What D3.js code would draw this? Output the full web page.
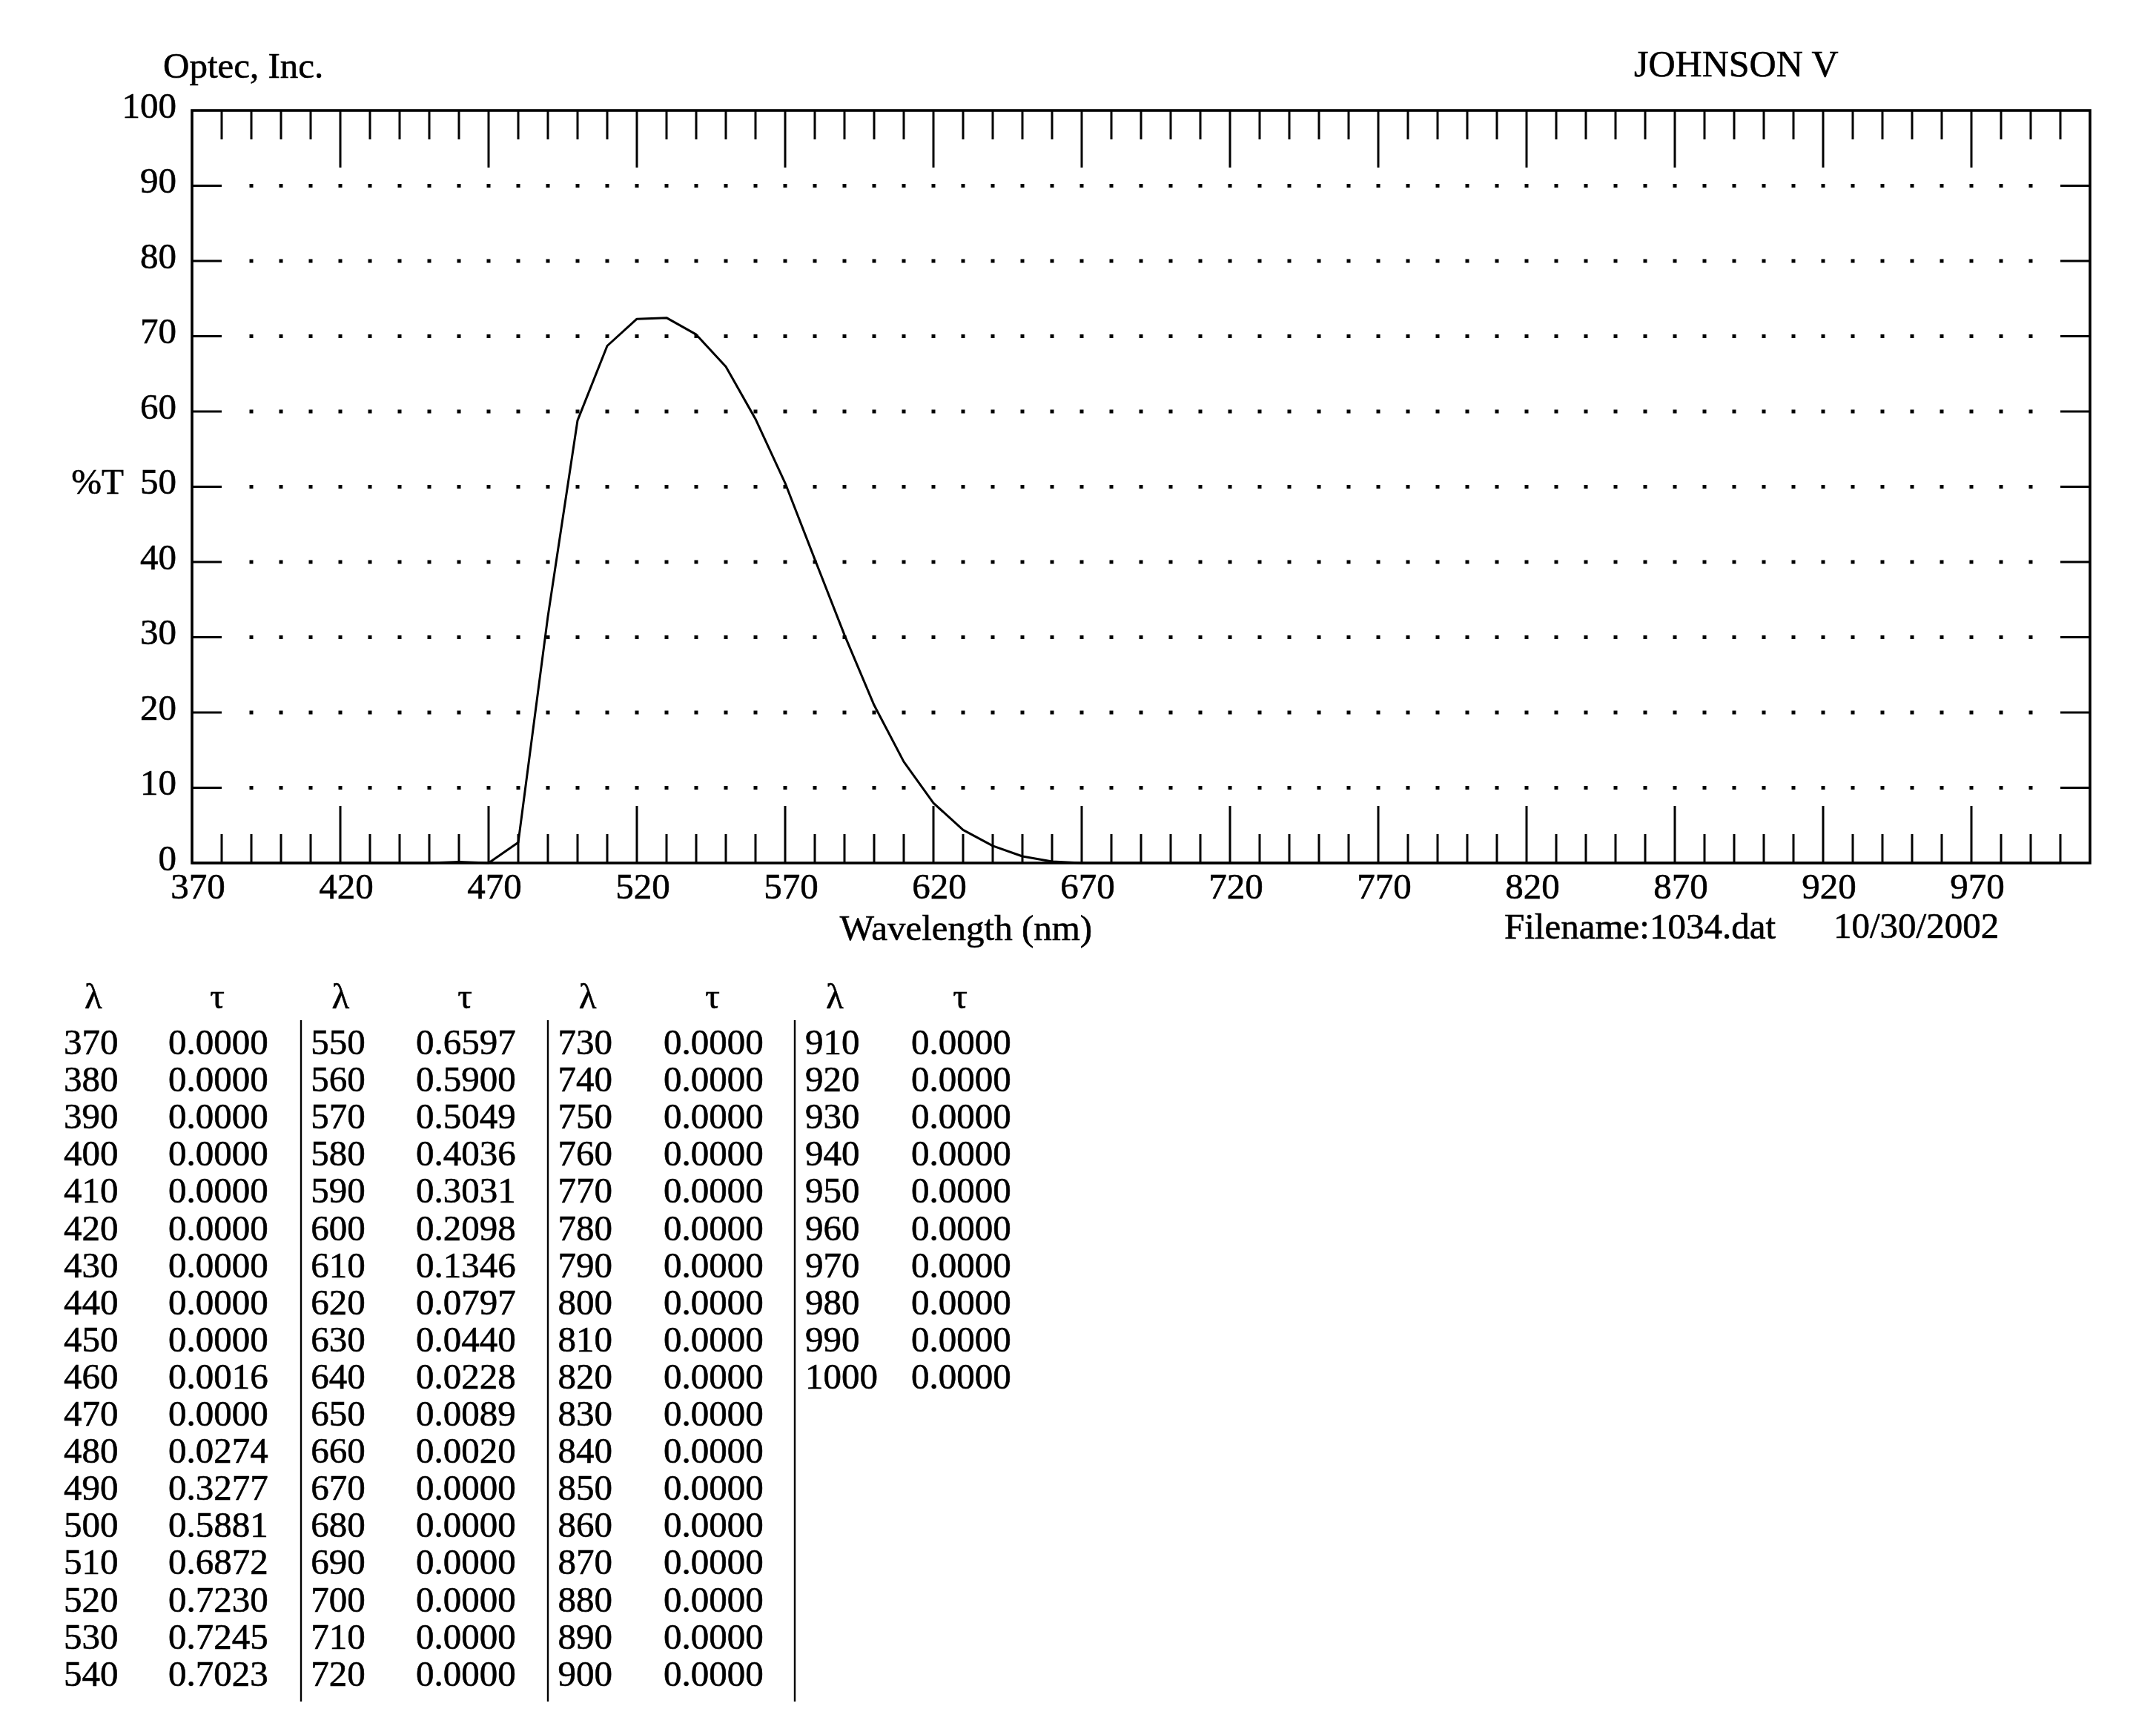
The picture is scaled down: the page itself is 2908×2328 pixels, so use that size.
<!DOCTYPE html>
<html>
<head>
<meta charset="utf-8">
<script src="https://cdn.jsdelivr.net/npm/d3@7"></script>
<style>
  html, body { margin: 0; padding: 0; background: #fff; }
  svg { display: block; }
  text { font-family: "Liberation Serif", "Times New Roman", serif; fill: #000; stroke: #000; stroke-width: 0.6px; }
</style>
</head>
<body>
<svg id="chart" width="2908" height="2328"></svg>
<script>
// ---- data ----
const wavelengths = [370,380,390,400,410,420,430,440,450,460,470,480,490,500,510,520,530,540,
  550,560,570,580,590,600,610,620,630,640,650,660,670,680,690,700,710,720,
  730,740,750,760,770,780,790,800,810,820,830,840,850,860,870,880,890,900,
  910,920,930,940,950,960,970,980,990,1000];
const transmittance = [0,0,0,0,0,0,0,0,0,0.0016,0,0.0274,0.3277,0.5881,0.6872,0.7230,0.7245,0.7023,
  0.6597,0.5900,0.5049,0.4036,0.3031,0.2098,0.1346,0.0797,0.0440,0.0228,0.0089,0.0020,0,0,0,0,0,0,
  0,0,0,0,0,0,0,0,0,0,0,0,0,0,0,0,0,0,
  0,0,0,0,0,0,0,0,0,0];
const xTickLabels = [370,420,470,520,570,620,670,720,770,820,870,920,970];
const yTickLabels = [0,10,20,30,40,50,60,70,80,90,100];
const titleLeft = "Optec, Inc.";
const titleRight = "JOHNSON V";
const xTitle = "Wavelength (nm)";
const yTitle = "%T";
const fileLabel = "Filename:1034.dat";
const dateLabel = "10/30/2002";
const headerLambda = "λ";
const headerTau = "τ";

// ---- layout ----
const svg = d3.select("#chart");
const FS = 49;
const x = d3.scaleLinear().domain([370, 1010]).range([259, 2819]);
const y = d3.scaleLinear().domain([0, 100]).range([1164, 149]);
const xMin = 370, xMax = 1010;

const minorTicks = d3.range(380, 1001, 10);
const isMajor = v => (v - 370) % 50 === 0;

const g = svg.append("g");

// dotted grid
const gridVals = yTickLabels.filter(v => v > 0 && v < 100);
const dotNm = d3.range(390, 991, 10);
gridVals.forEach(v => {
  g.selectAll(null).data(dotNm).join("rect")
    .attr("x", d => x(d) - 2.5).attr("y", y(v) - 2.5)
    .attr("width", 5).attr("height", 5).attr("fill", "#000");
  g.append("line").attr("x1", x(370)).attr("x2", x(380)).attr("y1", y(v)).attr("y2", y(v))
    .attr("stroke", "#000").attr("stroke-width", 3.2);
  g.append("line").attr("x1", x(1000)).attr("x2", x(1010)).attr("y1", y(v)).attr("y2", y(v))
    .attr("stroke", "#000").attr("stroke-width", 3.2);
});

// top & bottom ticks
g.selectAll(".tt").data(minorTicks).join("line")
  .attr("x1", d => x(d)).attr("x2", d => x(d))
  .attr("y1", y(100)).attr("y2", d => y(100) + (isMajor(d) ? 77 : 39))
  .attr("stroke", "#000").attr("stroke-width", 3);
g.selectAll(".bt").data(minorTicks).join("line")
  .attr("x1", d => x(d)).attr("x2", d => x(d))
  .attr("y1", y(0)).attr("y2", d => y(0) - (isMajor(d) ? 77 : 39))
  .attr("stroke", "#000").attr("stroke-width", 3);

// frame
g.append("rect").attr("x", x(xMin)).attr("y", y(100))
  .attr("width", x(xMax) - x(xMin)).attr("height", y(0) - y(100))
  .attr("fill", "none").attr("stroke", "#000").attr("stroke-width", 3.6);

// curve
const pts = wavelengths.map((w, i) => [w, transmittance[i] * 100]);
g.append("path").datum(pts)
  .attr("d", d3.line().x(d => x(d[0])).y(d => y(d[1])))
  .attr("fill", "none").attr("stroke", "#000").attr("stroke-width", 3)
  .attr("stroke-linejoin", "round");

// y labels
g.selectAll(".yl").data(yTickLabels).join("text")
  .attr("x", 238).attr("y", d => y(d)).attr("dy", "0.2em")
  .attr("text-anchor", "end").attr("font-size", FS).text(d => d);

// x labels
g.selectAll(".xl").data(xTickLabels).join("text")
  .attr("x", d => x(d) + 8).attr("y", 1212)
  .attr("text-anchor", "middle").attr("font-size", FS).text(d => d);

// titles
g.append("text").attr("x", 220).attr("y", 105).attr("font-size", FS).text(titleLeft);
g.append("text").attr("x", 2204).attr("y", 103).attr("font-size", 50).text(titleRight);
g.append("text").attr("x", 1303).attr("y", 1268).attr("text-anchor", "middle").attr("font-size", FS).text(xTitle);
g.append("text").attr("x", 167).attr("y", y(50)).attr("dy", "0.2em").attr("text-anchor", "end").attr("font-size", FS).text(yTitle);
g.append("text").attr("x", 2029).attr("y", 1266).attr("font-size", FS).text(fileLabel);
g.append("text").attr("x", 2473).attr("y", 1265).attr("font-size", FS).text(dateLabel);

// table
const fmt = d3.format(".4f");
const rowsPerCol = 18;
const nGroups = Math.ceil(wavelengths.length / rowsPerCol);
const lamLeft = gi => 86 + 333.3 * gi;
const tauLeft = gi => 227 + 334 * gi;
const rowY = r => 1422 + 50.1 * r;
const tbl = svg.append("g");
d3.range(nGroups).forEach(gi => {
  tbl.append("text").attr("x", lamLeft(gi) + 40).attr("y", 1360)
    .attr("text-anchor", "middle").attr("font-size", FS).text(headerLambda);
  tbl.append("text").attr("x", tauLeft(gi) + 66).attr("y", 1360)
    .attr("text-anchor", "middle").attr("font-size", FS).text(headerTau);
  if (gi > 0) {
    tbl.append("line").attr("x1", 406 + 333 * (gi - 1)).attr("x2", 406 + 333 * (gi - 1))
      .attr("y1", 1376).attr("y2", 2295).attr("stroke", "#000").attr("stroke-width", 2.4);
  }
});
wavelengths.forEach((w, i) => {
  const gi = Math.floor(i / rowsPerCol), r = i % rowsPerCol;
  tbl.append("text").attr("x", lamLeft(gi)).attr("y", rowY(r)).attr("font-size", FS).text(w);
  tbl.append("text").attr("x", tauLeft(gi)).attr("y", rowY(r)).attr("font-size", FS).text(fmt(transmittance[i]));
});
</script>
</body>
</html>
